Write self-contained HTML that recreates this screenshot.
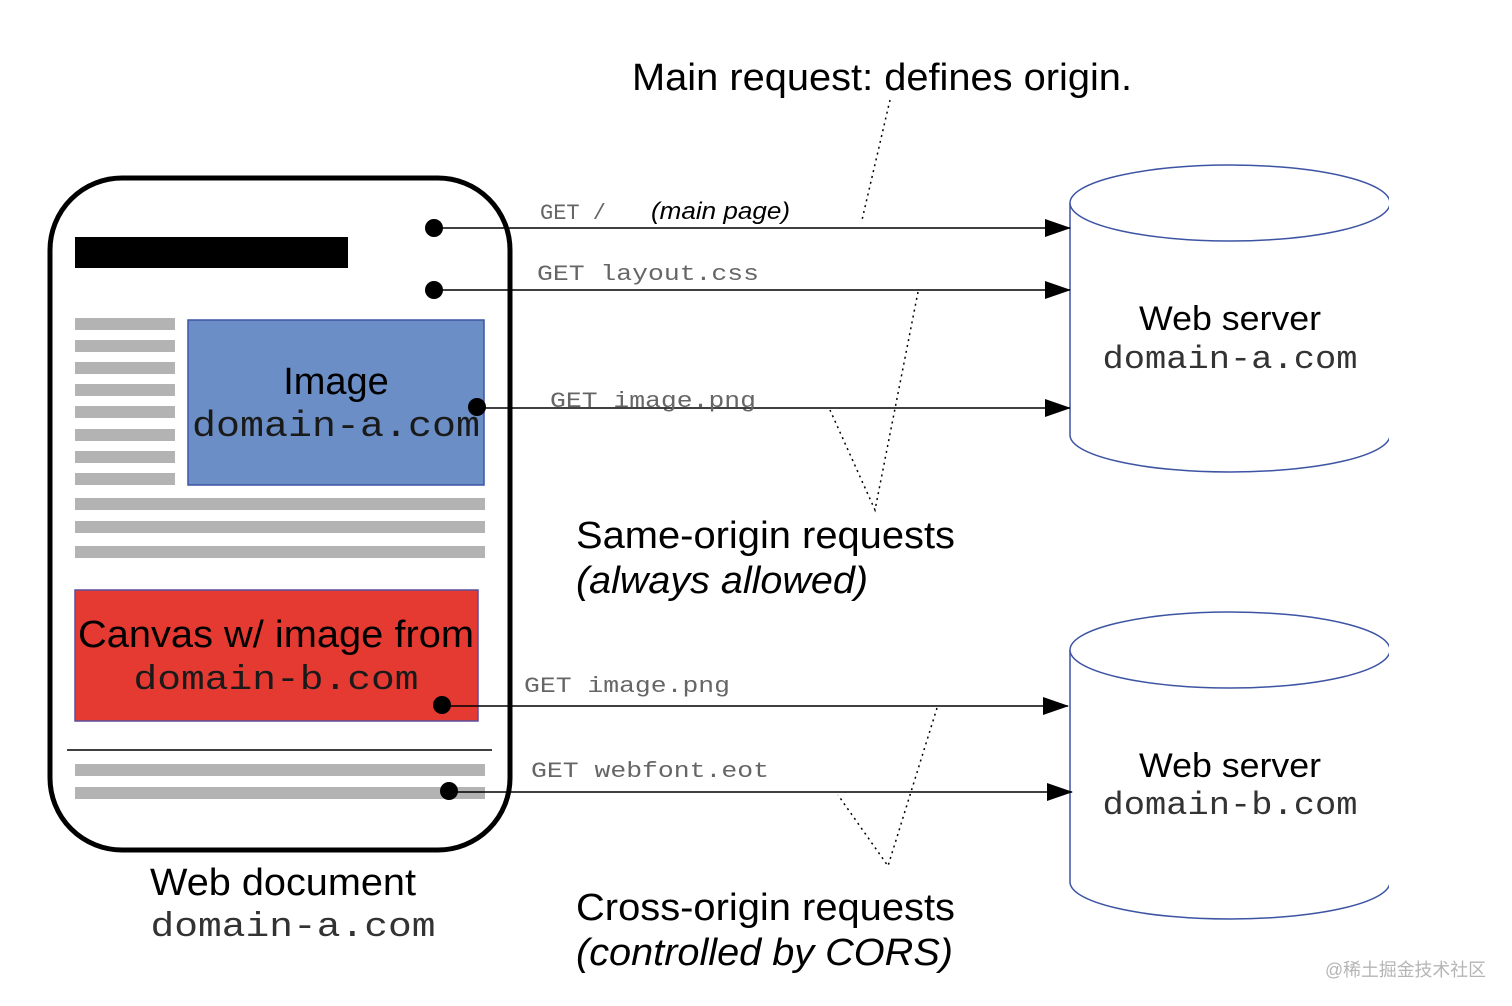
<!DOCTYPE html>
<html><head><meta charset="utf-8"><style>
html,body{margin:0;padding:0;background:#fff}
svg{display:block}
.s{font-family:"Liberation Sans",sans-serif}
.m{font-family:"Liberation Mono",monospace}
</style></head><body>
<svg width="1512" height="1006" viewBox="0 0 1512 1006" xmlns="http://www.w3.org/2000/svg">
<defs><marker id="a" markerWidth="26" markerHeight="18" refX="25" refY="9" orient="auto" markerUnits="userSpaceOnUse"><path d="M0,0 L26,9 L0,18 z" fill="#000"/></marker></defs>
<!-- document -->
<rect x="50" y="178" width="460" height="672" rx="72" ry="72" fill="#fff" stroke="#000" stroke-width="5"/>
<rect x="75" y="237" width="273" height="31" fill="#000"/>
<g fill="#b3b3b3">
<rect x="75" y="318" width="100" height="12"/><rect x="75" y="340" width="100" height="12"/>
<rect x="75" y="362" width="100" height="12"/><rect x="75" y="384" width="100" height="12"/>
<rect x="75" y="406" width="100" height="12"/><rect x="75" y="429" width="100" height="12"/>
<rect x="75" y="451" width="100" height="12"/><rect x="75" y="473" width="100" height="12"/>
<rect x="75" y="498" width="410" height="12"/><rect x="75" y="521" width="410" height="12"/>
<rect x="75" y="546" width="410" height="12"/>
<rect x="75" y="764" width="410" height="12"/><rect x="75" y="787" width="410" height="12"/>
</g>
<rect x="188" y="320" width="296" height="165" fill="#6a8ec5" stroke="#3d54a3" stroke-width="1.5"/>
<text x="336" y="394" class="s" font-size="38" text-anchor="middle">Image</text>
<text x="336" y="436" class="m" font-size="36" text-anchor="middle" textLength="288" lengthAdjust="spacingAndGlyphs" fill="#1a1a1a">domain-a.com</text>
<rect x="75" y="590" width="403" height="131" fill="#e43a32" stroke="#5a4f9a" stroke-width="1.5"/>
<text x="276" y="647" class="s" font-size="38" text-anchor="middle" textLength="396" lengthAdjust="spacingAndGlyphs">Canvas w/ image from</text>
<text x="276" y="689" class="m" font-size="34" text-anchor="middle" textLength="285" lengthAdjust="spacingAndGlyphs" fill="#1a1a1a">domain-b.com</text>
<line x1="67" y1="750" x2="492" y2="750" stroke="#000" stroke-width="1.5"/>
<text x="283" y="895" class="s" font-size="38" text-anchor="middle" textLength="266" lengthAdjust="spacingAndGlyphs">Web document</text>
<text x="293" y="936" class="m" font-size="34" text-anchor="middle" textLength="285" lengthAdjust="spacingAndGlyphs" fill="#333">domain-a.com</text>
<!-- cylinders -->
<g fill="#fff" stroke="#3d54a3" stroke-width="1.5">
<path d="M1070,203 L1070,435 A160,37 0 0 0 1390,435 L1390,203"/>
<ellipse cx="1230" cy="203" rx="160" ry="38"/>
<path d="M1070,650 L1070,882 A160,37 0 0 0 1390,882 L1390,650"/>
<ellipse cx="1230" cy="650" rx="160" ry="38"/>
</g>
<rect x="1389" y="150" width="123" height="800" fill="#fff"/>
<text x="1230" y="330" class="s" font-size="34" text-anchor="middle" textLength="182" lengthAdjust="spacingAndGlyphs">Web server</text>
<text x="1230" y="368" class="m" font-size="32" text-anchor="middle" textLength="255" lengthAdjust="spacingAndGlyphs" fill="#333">domain-a.com</text>
<text x="1230" y="777" class="s" font-size="34" text-anchor="middle" textLength="182" lengthAdjust="spacingAndGlyphs">Web server</text>
<text x="1230" y="814" class="m" font-size="32" text-anchor="middle" textLength="255" lengthAdjust="spacingAndGlyphs" fill="#333">domain-b.com</text>
<!-- arrows -->
<g stroke="#000" stroke-width="1.5" marker-end="url(#a)">
<line x1="434" y1="228" x2="1070" y2="228"/>
<line x1="434" y1="290" x2="1070" y2="290"/>
<line x1="477" y1="408" x2="1070" y2="408"/>
<line x1="442" y1="706" x2="1068" y2="706"/>
<line x1="449" y1="792" x2="1072" y2="792"/>
</g>
<g fill="#000">
<circle cx="434" cy="228" r="9"/><circle cx="434" cy="290" r="9"/>
<circle cx="477" cy="407" r="9"/><circle cx="442" cy="705" r="9"/><circle cx="449" cy="791" r="9"/>
</g>
<g class="m" font-size="22" fill="#666">
<text x="540" y="219">GET /</text>
<text x="537" y="280" textLength="222" lengthAdjust="spacingAndGlyphs">GET layout.css</text>
<text x="550" y="407" textLength="206" lengthAdjust="spacingAndGlyphs">GET image.png</text>
<text x="524" y="692" textLength="206" lengthAdjust="spacingAndGlyphs">GET image.png</text>
<text x="531" y="777" textLength="238" lengthAdjust="spacingAndGlyphs">GET webfont.eot</text>
</g>
<text x="651" y="219" class="s" font-size="24" font-style="italic" textLength="139" lengthAdjust="spacingAndGlyphs">(main page)</text>
<!-- dotted -->
<g stroke="#000" stroke-width="1.5" stroke-dasharray="2,4" fill="none">
<path d="M890,100 L862,220"/>
<path d="M918,292 L875,510 L830,410"/>
<path d="M937,708 L888,866 L838,795"/>
</g>
<text x="632" y="90" class="s" font-size="38" textLength="500" lengthAdjust="spacingAndGlyphs">Main request: defines origin.</text>
<text x="576" y="548" class="s" font-size="38" textLength="379" lengthAdjust="spacingAndGlyphs">Same-origin requests</text>
<text x="576" y="593" class="s" font-size="38" font-style="italic" textLength="292" lengthAdjust="spacingAndGlyphs">(always allowed)</text>
<text x="576" y="920" class="s" font-size="38" textLength="379" lengthAdjust="spacingAndGlyphs">Cross-origin requests</text>
<text x="576" y="965" class="s" font-size="38" font-style="italic" textLength="377" lengthAdjust="spacingAndGlyphs">(controlled by CORS)</text>
<text x="1325" y="976" font-family="'Liberation Sans','Noto Sans CJK SC',sans-serif" font-size="18" fill="#b5b5b5" textLength="161" lengthAdjust="spacingAndGlyphs">@稀土掘金技术社区</text>
</svg>
</body></html>
